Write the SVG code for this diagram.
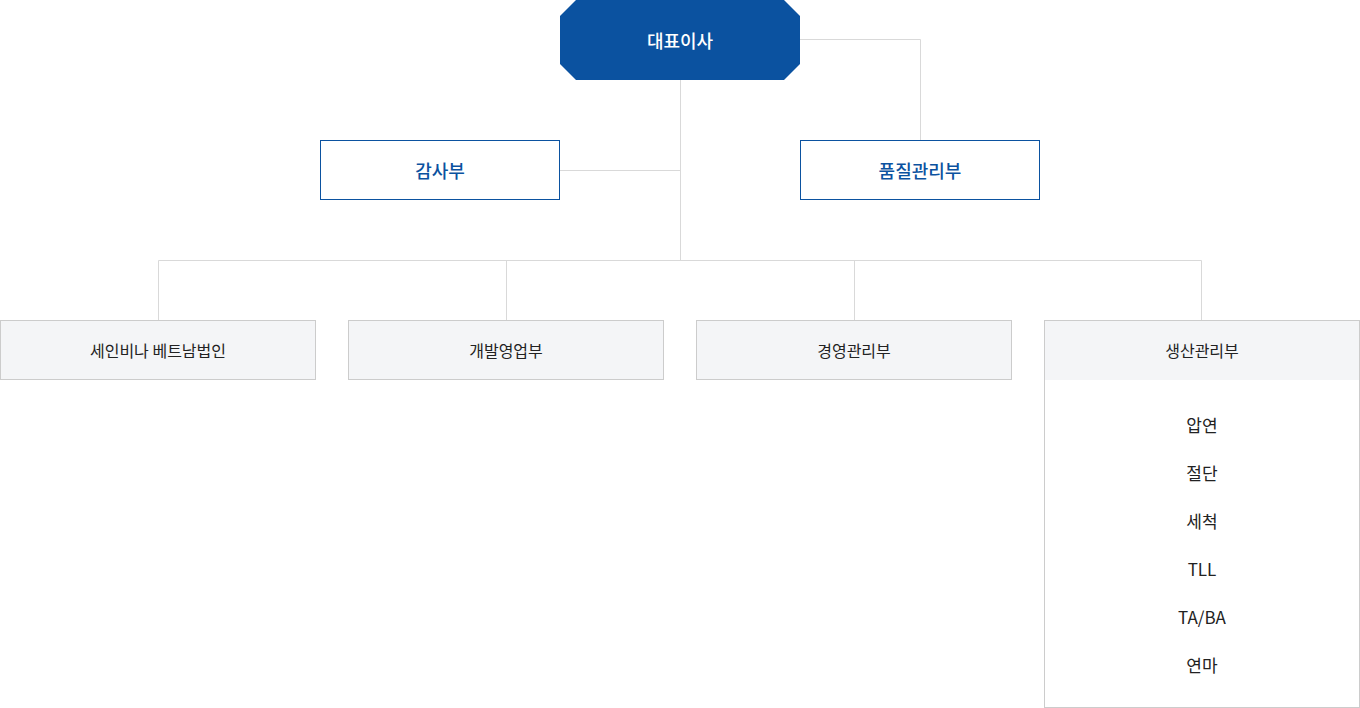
<svg xmlns="http://www.w3.org/2000/svg" width="1360" height="708" viewBox="0 0 1360 708">
<style>
.ln{fill:none;stroke:#d9d9d9;stroke-width:1}
.bb{fill:#ffffff;stroke:#0b52a0;stroke-width:1}
.gb{fill:#f4f5f7;stroke:#cccccc;stroke-width:1}
.t{font-family:"Noto Sans CJK KR","Noto Sans",sans-serif;text-anchor:middle;dominant-baseline:central}
.tw{fill:#ffffff;font-size:18px;font-weight:500}
.tb{fill:#0b52a0;font-size:18px;font-weight:500}
.tg{fill:#222222;font-size:16px;font-weight:400}
.ts{fill:#222222;font-size:17px;font-weight:400}
</style>
<rect width="1360" height="708" fill="#ffffff"/>
<g id="connectors">
<path class="ln" d="M800 39.5H920.5V140"/>
<path class="ln" d="M680.5 80V260"/>
<path class="ln" d="M560 170.5H680.5"/>
<path class="ln" d="M158.5 320V260.5H1201.5V320"/>
<path class="ln" d="M506.5 260.5V320"/>
<path class="ln" d="M854.5 260.5V320"/>
</g>
<g id="ceo">
<polygon points="576,0 784,0 800,16 800,64 784,80 576,80 560,64 560,16" fill="#0b52a0"/>
<text class="t tw" x="680" y="40">대표이사</text>
</g>
<g id="audit">
<rect class="bb" x="320.5" y="140.5" width="239" height="59"/>
<text class="t tb" x="440" y="170">감사부</text>
</g>
<g id="quality">
<rect class="bb" x="800.5" y="140.5" width="239" height="59"/>
<text class="t tb" x="920" y="170">품질관리부</text>
</g>
<g id="vietnam">
<rect class="gb" x="0.5" y="320.5" width="315" height="59"/>
<text class="t tg" x="158" y="350">세인비나 베트남법인</text>
</g>
<g id="sales">
<rect class="gb" x="348.5" y="320.5" width="315" height="59"/>
<text class="t tg" x="506" y="350">개발영업부</text>
</g>
<g id="management">
<rect class="gb" x="696.5" y="320.5" width="315" height="59"/>
<text class="t tg" x="854" y="350">경영관리부</text>
</g>
<g id="production">
<rect x="1044.5" y="320.5" width="315" height="387" fill="#ffffff" stroke="#cccccc"/>
<rect x="1045" y="321" width="314" height="59" fill="#f4f5f7"/>
<text class="t tg" x="1202" y="350">생산관리부</text>
<text class="t ts" x="1202" y="424">압연</text>
<text class="t ts" x="1202" y="472">절단</text>
<text class="t ts" x="1202" y="520">세척</text>
<text class="t ts" x="1202" y="568">TLL</text>
<text class="t ts" x="1202" y="616">TA/BA</text>
<text class="t ts" x="1202" y="664">연마</text>
</g>
</svg>
